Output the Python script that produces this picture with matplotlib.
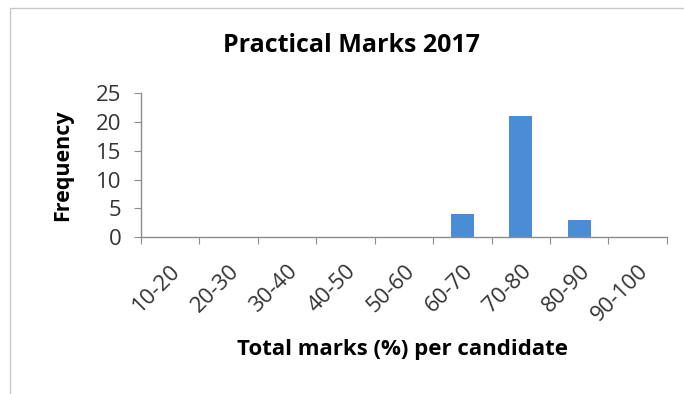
import numpy as np
import matplotlib

matplotlib.use('Agg')
import matplotlib.pyplot as plt
from matplotlib.patches import Rectangle

# 成绩分布数据
bins = ['10-20', '20-30', '30-40', '40-50', '50-60', '60-70', '70-80', '80-90', '90-100']
freq = [0, 0, 0, 0, 0, 4, 21, 3, 0]

plt.rcParams['font.family'] = ['Open Sans', 'DejaVu Sans']

fig = plt.figure(figsize=(6.84, 3.94), dpi=100)
ax = fig.add_axes([0.206, 0.398, 0.769, 0.366])

x = np.arange(len(bins))
ax.bar(x, freq, width=0.4, color='#4a8cd6', zorder=2)

# 刻度线放在类别边界上，标签放在类别中间
ax.set_xlim(-0.5, len(bins) - 0.5)
ax.set_xticks(np.arange(len(bins) + 1) - 0.5)
ax.set_xticklabels([])
ax.set_xticks(x, minor=True)
ax.set_xticklabels(bins, minor=True, rotation=45, ha='right', va='top',
                   rotation_mode='anchor', fontsize=16, color='#333333')
ax.tick_params(axis='x', which='minor', length=0, pad=17)
ax.tick_params(axis='x', which='major', length=5, direction='out', color='#8c8c8c')

ax.set_ylim(0, 25)
ax.set_yticks([0, 5, 10, 15, 20, 25])
ax.tick_params(axis='y', length=5, direction='out', color='#8c8c8c',
               labelsize=16, labelcolor='#333333', pad=9)

for side in ['top', 'right']:
    ax.spines[side].set_visible(False)
for side in ['left', 'bottom']:
    ax.spines[side].set_color('#8c8c8c')
    ax.spines[side].set_linewidth(1.0)

fig.text(63 / 684, 1 - 165 / 394, 'Frequency', fontsize=15.5, fontweight='bold',
         rotation=90, ha='center', va='center')
fig.text(402 / 684, 1 - 350 / 394, 'Total marks (%) per candidate', fontsize=16,
         fontweight='bold', ha='center', va='center')
fig.text(351 / 684, 1 - 45 / 394, 'Practical Marks 2017', fontsize=18,
         fontweight='bold', ha='center', va='center')

# 图表外框
fig.patches.append(Rectangle((10 / 684, -0.05), 1.0, 1 - 8 / 394 + 0.05,
                             transform=fig.transFigure, fill=False,
                             edgecolor='#c8c8c8', linewidth=1.0))

plt.savefig('out.png', dpi=100)
